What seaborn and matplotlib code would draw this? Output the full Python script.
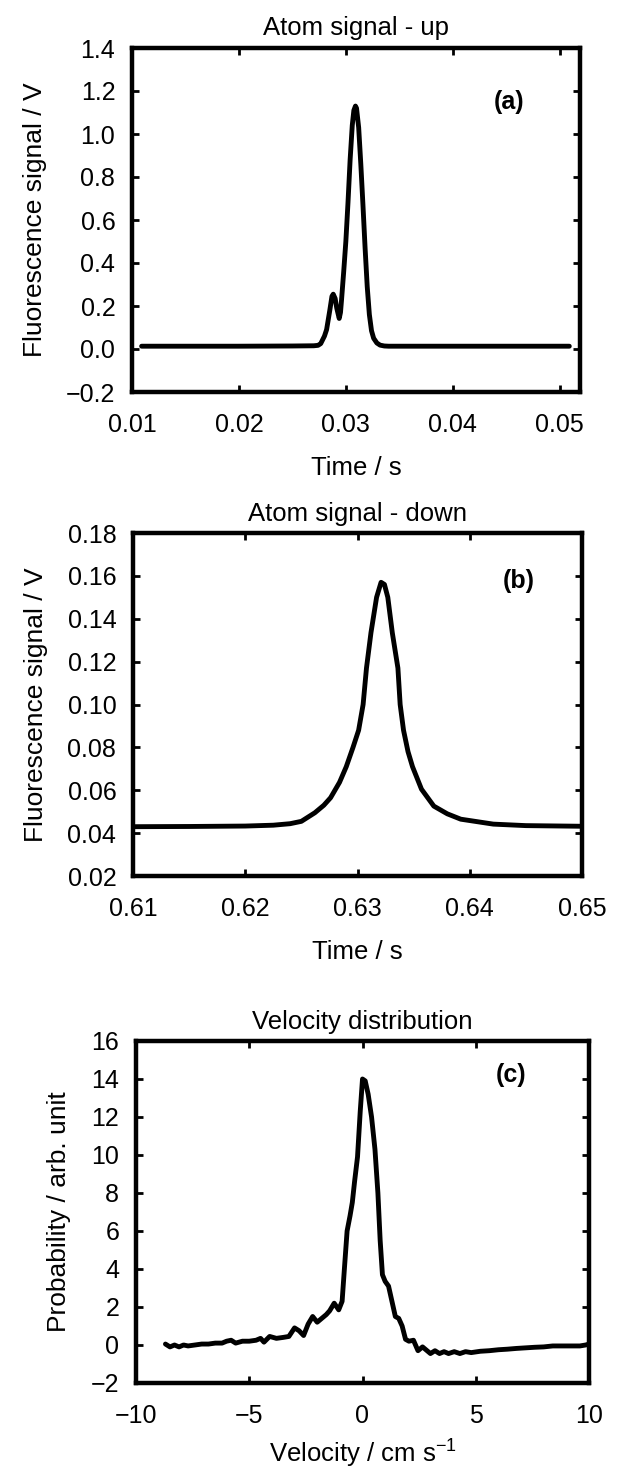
"""Atom signal (up / down) and velocity distribution, three stacked panels"""

import matplotlib
matplotlib.use("Agg")
import matplotlib.pyplot as plt
import pandas as pd
import seaborn as sns

# (a) Atom signal - up
t_up = [0.0109, 0.015, 0.020, 0.025, 0.0270, 0.0274, 0.02765, 0.0278, 0.0280,
        0.0282, 0.0283, 0.0285, 0.0287, 0.02882, 0.0290, 0.02915, 0.02938,
        0.0295, 0.0296, 0.0298, 0.0300, 0.0302, 0.0304, 0.0306, 0.03075,
        0.0309, 0.0310, 0.0312, 0.0314, 0.0316, 0.0318, 0.0320, 0.0322,
        0.0324, 0.0326, 0.0329, 0.0332, 0.0336, 0.034, 0.040, 0.045, 0.0509]
sig_up = [0.013, 0.013, 0.013, 0.014, 0.015, 0.017, 0.025, 0.040, 0.060,
          0.090, 0.120, 0.180, 0.245, 0.255, 0.235, 0.190, 0.142,
          0.170, 0.230, 0.360, 0.500, 0.680, 0.880, 1.040, 1.110,
          1.130, 1.120, 1.030, 0.860, 0.670, 0.470, 0.290, 0.160,
          0.085, 0.050, 0.028, 0.018, 0.014, 0.013, 0.013, 0.013, 0.013]

# (b) Atom signal - down
t_down = [0.610, 0.615, 0.620, 0.6225, 0.6240, 0.6250, 0.6262, 0.6270, 0.6276,
          0.6284, 0.6290, 0.6296, 0.6301, 0.6305, 0.6308, 0.6312, 0.6317,
          0.6321, 0.6324, 0.6327, 0.6331, 0.6336, 0.6338, 0.6341, 0.6345,
          0.6349, 0.6357, 0.6368, 0.6380, 0.6392, 0.6421, 0.645, 0.650]
sig_down = [0.0430, 0.0431, 0.0433, 0.0437, 0.0444, 0.0455, 0.0495, 0.0530, 0.0565,
            0.0637, 0.0710, 0.0800, 0.0880, 0.1000, 0.1170, 0.1335, 0.1500,
            0.1570, 0.1560, 0.1500, 0.1335, 0.1170, 0.1000, 0.0880, 0.0780,
            0.0710, 0.0605, 0.0526, 0.0490, 0.0465, 0.0442, 0.0435, 0.0432]

# (c) Velocity distribution
vel = [-8.7, -8.5, -8.3, -8.1, -7.9, -7.7, -7.4, -7.1, -6.8, -6.5, -6.2, -6.0,
       -5.8, -5.6, -5.3, -5.0, -4.7, -4.5, -4.35, -4.1, -3.8, -3.5, -3.25,
       -3.0, -2.8, -2.6, -2.4, -2.2, -2.0, -1.8, -1.6, -1.45, -1.25, -1.05,
       -0.9, -0.8, -0.68, -0.55, -0.45, -0.35, -0.22, -0.1, 0.0, 0.12, 0.25,
       0.4, 0.55, 0.68, 0.78, 0.88, 1.0, 1.15, 1.3, 1.45, 1.6, 1.75, 1.9,
       2.05, 2.25, 2.45, 2.65, 2.85, 3.0, 3.2, 3.4, 3.6, 3.8, 4.05, 4.3,
       4.55, 4.8, 5.2, 5.6, 6.0, 6.4, 6.8, 7.2, 7.6, 8.0, 8.4, 8.8, 9.2,
       9.6, 9.85, 10.0]
prob = [0.05, -0.1, 0.0, -0.1, 0.0, -0.05, 0.0, 0.05, 0.05, 0.1, 0.1, 0.2,
        0.25, 0.1, 0.2, 0.2, 0.25, 0.35, 0.15, 0.45, 0.35, 0.4, 0.45,
        0.9, 0.75, 0.5, 1.1, 1.5, 1.2, 1.4, 1.6, 1.8, 2.2, 1.85,
        2.3, 4.0, 6.0, 6.8, 7.5, 8.6, 9.9, 12.3, 14.0, 13.9, 13.2,
        12.0, 10.3, 8.0, 5.5, 3.7, 3.35, 3.1, 2.3, 1.5, 1.4, 1.0, 0.3,
        0.2, 0.25, -0.3, -0.1, -0.3, -0.45, -0.3, -0.45, -0.35, -0.45, -0.35, -0.45,
        -0.35, -0.4, -0.33, -0.3, -0.25, -0.22, -0.18, -0.15, -0.12, -0.1, -0.05, -0.05, -0.05,
        -0.05, 0.0, 0.05]

sns.set_style("ticks")
plt.rcParams["font.family"] = ["Liberation Sans", "DejaVu Sans"]
plt.rcParams["mathtext.default"] = "regular"
for key in ["text.color", "axes.labelcolor", "xtick.color", "ytick.color", "axes.edgecolor"]:
    plt.rcParams[key] = "black"

W, H = 632, 1472
fig = plt.figure(figsize=(W / 100, H / 100), dpi=100)


def make_ax(l, r, t, b):
    return fig.add_axes([l / W, 1 - b / H, (r - l) / W, (b - t) / H])


panels = [
    dict(box=(132, 580, 48, 392), x=t_up, y=sig_up, title="Atom signal - up",
         xlabel="Time / s", ylabel="Fluorescence signal / V", tag="(a)",
         xlim=(0.01, 0.0519), ylim=(-0.2, 1.4),
         xticks=[0.01, 0.02, 0.03, 0.04, 0.05],
         yticks=[-0.2, 0.0, 0.2, 0.4, 0.6, 0.8, 1.0, 1.2, 1.4],
         xfmt="{:.2f}", yfmt="{:.1f}", tagpos=(0.842, 0.843), xpad=14),
    dict(box=(133, 582, 533, 876), x=t_down, y=sig_down, title="Atom signal - down",
         xlabel="Time / s", ylabel="Fluorescence signal / V", tag="(b)",
         xlim=(0.61, 0.65), ylim=(0.02, 0.18),
         xticks=[0.61, 0.62, 0.63, 0.64, 0.65],
         yticks=[0.02, 0.04, 0.06, 0.08, 0.10, 0.12, 0.14, 0.16, 0.18],
         xfmt="{:.2f}", yfmt="{:.2f}", tagpos=(0.86, 0.86), xpad=14),
    dict(box=(136, 589, 1041, 1383), x=vel, y=prob, title="Velocity distribution",
         xlabel=r"Velocity / cm s$^{-1}$", ylabel="Probability / arb. unit", tag="(c)",
         xlim=(-10, 10), ylim=(-2, 16),
         xticks=[-10, -5, 0, 5, 10],
         yticks=[-2, 0, 2, 4, 6, 8, 10, 12, 14, 16],
         xfmt="{:d}", yfmt="{:d}", tagpos=(0.828, 0.90), xpad=7),
]

for p in panels:
    ax = make_ax(*p["box"])
    df = pd.DataFrame({"x": p["x"], "y": p["y"]})
    sns.lineplot(data=df, x="x", y="y", ax=ax, color="black", lw=3.5,
                 estimator=None, sort=False)
    ax.set_xlim(*p["xlim"])
    ax.set_ylim(*p["ylim"])
    ax.set_xticks(p["xticks"])
    ax.set_yticks(p["yticks"])
    ax.set_xticklabels([p["xfmt"].format(v).replace("-", "\u2212") for v in p["xticks"]])
    ax.set_yticklabels([p["yfmt"].format(v).replace("-", "\u2212") for v in p["yticks"]])
    ax.tick_params(direction="in", top=True, right=True, length=5, width=2,
                   labelsize=18)
    ax.tick_params(axis="x", pad=15)
    ax.tick_params(axis="y", pad=12)
    for s in ax.spines.values():
        s.set_linewidth(3.2)
    ax.set_title(p["title"], fontsize=18.5, pad=9)
    ax.set_xlabel(p["xlabel"], fontsize=18.5, labelpad=p["xpad"])
    ax.set_ylabel(p["ylabel"], fontsize=19, labelpad=14)
    ax.text(*p["tagpos"], p["tag"], transform=ax.transAxes, ha="center",
            va="center", fontsize=18, fontweight="bold")

fig.savefig("out.png", dpi=100)
